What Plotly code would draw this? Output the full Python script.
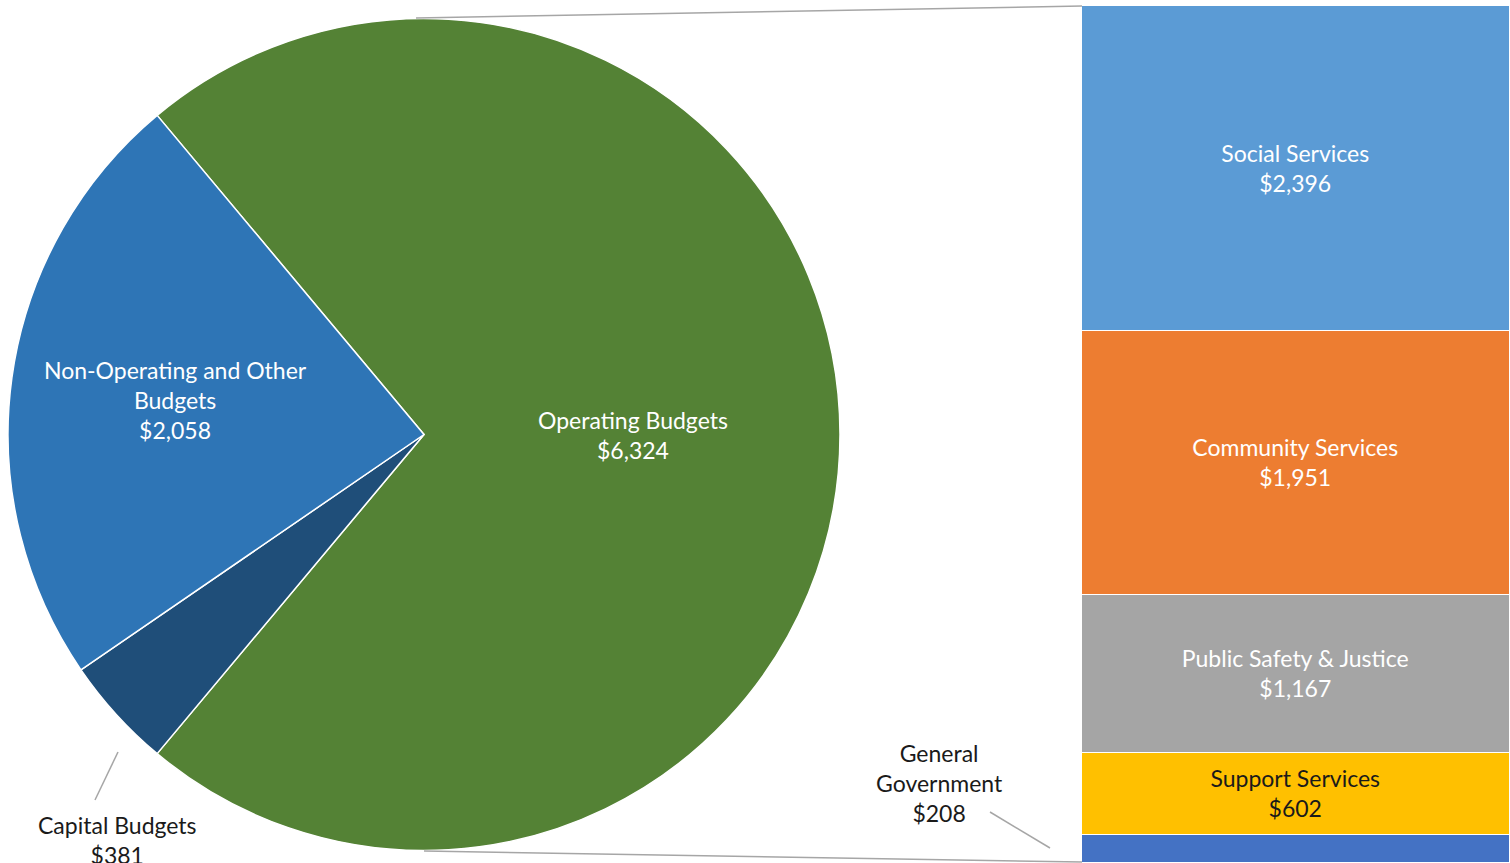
import plotly.graph_objects as go

W, H = 1510, 863

# Overall budget split (pie)
pie_labels = ["Operating Budgets", "Capital Budgets", "Non-Operating and Other<br>Budgets"]
pie_values = [6324, 381, 2058]
pie_colors = ["#548235", "#1F4E79", "#2E75B6"]

# Breakdown of the operating budget (stacked bar), bottom to top
bar_labels = ["General<br>Government", "Support Services", "Public Safety & Justice",
              "Community Services", "Social Services"]
bar_values = [208, 602, 1167, 1951, 2396]
bar_colors = ["#4472C4", "#FFC000", "#A5A5A5", "#ED7D31", "#5B9BD5"]
bar_text_colors = ["white", "#1a1a1a", "white", "white", "white"]

FONT = "Lato"
FSIZE = 23


def px(x, y):
    """Pixel position -> paper coordinates."""
    return x / W, 1 - y / H


def money(v):
    return f"${v:,.0f}"


fig = go.Figure()

total = sum(pie_values)
# centre the operating slice on 3 o'clock
rotation = 90 - 180 * pie_values[0] / total

x0, y0 = px(8, 851)
x1, y1 = px(840, 18)
fig.add_trace(go.Pie(
    labels=pie_labels,
    values=pie_values,
    marker=dict(colors=pie_colors, line=dict(color="white", width=1.5)),
    sort=False,
    direction="clockwise",
    rotation=rotation,
    textinfo="none",
    hoverinfo="label+value",
    showlegend=False,
    domain=dict(x=[x0, x1], y=[y0, y1]),
))

for lab, val, col, tcol in zip(bar_labels, bar_values, bar_colors, bar_text_colors):
    show = lab != "General<br>Government"
    fig.add_trace(go.Bar(
        x=["Operating"],
        y=[val],
        marker=dict(color=col, line=dict(color="white", width=1.5)),
        text=[f"{lab}<br>{money(val)}"] if show else None,
        textposition="inside" if show else "none",
        insidetextanchor="middle",
        textangle=0,
        constraintext="none",
        textfont=dict(family=FONT, size=FSIZE, color=tcol),
        hoverinfo="y+name",
        name=lab.replace("<br>", " "),
        showlegend=False,
    ))

annotations = []


def label(x, y, text, color):
    ax, ay = px(x, y)
    annotations.append(dict(
        x=ax, y=ay, xref="paper", yref="paper", text=text, showarrow=False,
        xanchor="center", yanchor="middle", align="center",
        font=dict(family=FONT, size=FSIZE, color=color),
    ))


label(633, 435, f"{pie_labels[0]}<br>{money(pie_values[0])}", "white")
label(175, 400, f"{pie_labels[2]}<br>{money(pie_values[2])}", "white")
label(118, 840, f"{pie_labels[1]}<br>{money(pie_values[1])}", "#1a1a1a")
label(940, 783, f"{bar_labels[0]}<br>{money(bar_values[0])}", "#1a1a1a")

shapes = []


def seg(xa, ya, xb, yb, color="#A6A6A6", width=1.5):
    pa = px(xa, ya)
    pb = px(xb, yb)
    shapes.append(dict(type="line", xref="paper", yref="paper",
                       x0=pa[0], y0=pa[1], x1=pb[0], y1=pb[1],
                       line=dict(color=color, width=width)))


# connectors between the operating slice and the breakdown bar
seg(416, 18, 1082, 6)
seg(424, 851, 1082, 862)
# leader lines for the small slice / segment
seg(118, 752, 95, 800)
seg(990, 812, 1050, 848)

fig.update_layout(
    width=W, height=H,
    margin=dict(l=0, r=0, t=0, b=0),
    paper_bgcolor="white", plot_bgcolor="white",
    barmode="stack", bargap=0,
    xaxis=dict(domain=[1082 / W, 1510 / W], visible=False),
    yaxis=dict(domain=[0, 1 - 6 / H], range=[0, sum(bar_values)], visible=False),
    annotations=annotations,
    shapes=shapes,
)

fig.write_html("out.html")
